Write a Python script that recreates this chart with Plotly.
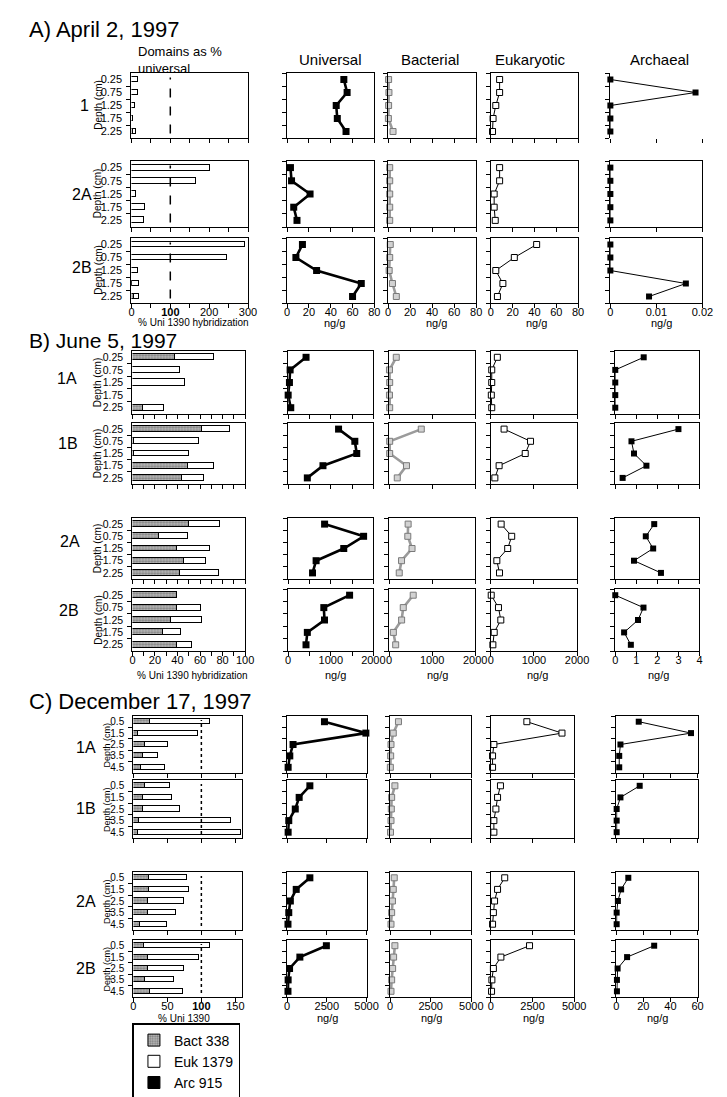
import plotly.graph_objects as go

W, H = 727, 1097
FONT = "Liberation Sans, Arial, Helvetica, sans-serif"

# ---------------- data ----------------
depth_AB = [0.25, 0.75, 1.25, 1.75, 2.25]
depth_AB_labels = ["0.25", "0.75", "1.25", "1.75", "2.25"]
depth_C = [0.5, 1.5, 2.5, 3.5, 4.5]
depth_C_labels = ["0.5", "1.5", "2.5", "3.5", "4.5"]

section_titles = ["A) April 2, 1997", "B) June 5, 1997", "C) December 17, 1997"]
column_titles = ["Universal", "Bacterial", "Eukaryotic", "Archaeal"]
legend_names = ["Bact 338", "Euk 1379", "Arc 915"]
cores_A = ["1", "2A", "2B"]
cores_B = ["1A", "1B", "2A", "2B"]
cores_C = ["1A", "1B", "2A", "2B"]

# A) April 2, 1997 -- domains as % universal (stacked: Bact, Euk, Arc)
A1_bact_pct = [0, 0, 0, 0, 5]
A1_euk_pct = [18, 17, 10, 6, 8]
A2A_bact_pct = [0, 0, 0, 0, 0]
A2A_euk_pct = [203, 168, 13, 35, 34]
A2B_bact_pct = [0, 0, 0, 3, 8]
A2B_euk_pct = [294, 248, 19, 18, 13]
A_arc_pct = [0, 0, 0, 0, 0]
# A) rRNA ng/g
A1_uni = [52, 55, 45, 46, 54]
A1_bac = [0.5, 0.8, 0.5, 0.3, 4.5]
A1_euk = [8, 8, 4.5, 2, 1.5]
A1_arc = [0, 0.0185, 0, 0, 0]
A2A_uni = [3, 4, 21, 6, 9]
A2A_bac = [1.5, 1.5, 1.5, 1.5, 1.5]
A2A_euk = [8, 8, 3, 3, 4]
A2A_arc = [0, 0, 0, 0, 0]
A2B_uni = [14, 8, 27, 68, 60]
A2B_bac = [2, 1.5, 1, 4, 7.5]
A2B_euk = [42, 21.5, 4.5, 11, 6]
A2B_arc = [0, 0, 0, 0.0164, 0.0084]

# B) June 5, 1997
B1A_bact_pct = [38, 0, 0, None, 9.5]
B1A_euk_pct = [35, 43, 47, None, 19]
B1B_bact_pct = [62, 2, 2, 50, 44]
B1B_euk_pct = [25, 57.5, 49, 22.5, 20]
B2A_bact_pct = [51, 24, 40, 46, 43]
B2A_euk_pct = [27, 26, 29, 20, 34]
B2B_bact_pct = [40, 40, 35, 27.5, 40]
B2B_euk_pct = [0, 21, 27, 16, 13]
B_arc_pct = [0, 0, 0, 0, 0]
B1A_uni = [420, 46, 30, 0, 61]
B1A_bac = [168, 10, 15, 10, 15]
B1A_euk = [150, 20, 20, 10, 20]
B1A_arc = [1.35, 0, 0, 0, 0]
B1B_uni = [1183, 1565, 1610, 817, 450]
B1B_bac = [748, 15, 15, 405, 191]
B1B_euk = [306, 920, 797, 191, 92]
B1B_arc = [3.0, 0.77, 0.89, 1.48, 0.35]
B2A_uni = [855, 1771, 1305, 656, 572]
B2A_bac = [443, 435, 534, 290, 237]
B2A_euk = [238, 483, 390, 138, 200]
B2A_arc = [1.85, 1.45, 1.8, 0.89, 2.17]
B2B_uni = [1442, 837, 853, 450, 419]
B2B_bac = [561, 330, 292, 100, 154]
B2B_euk = [8, 176, 230, 77, 46]
B2B_arc = [0, 1.34, 1.08, 0.42, 0.74]

# C) December 17, 1997
C1A_bact_pct = [25, 7, 18, 14, 12.5]
C1A_euk_pct = [88, 88, 33.5, 23, 34.5]
C1B_bact_pct = [17.5, 14, 14.5, 8.5, 7]
C1B_euk_pct = [36.5, 44, 55, 135, 152]
C2A_bact_pct = [23, 23, 22, 21.5, 11]
C2A_euk_pct = [56, 60, 53, 42, 38.5]
C2B_bact_pct = [16, 22.5, 22.5, 17, 25.5]
C2B_euk_pct = [98, 75, 53, 43, 48]
C_arc_pct = [0, 0, 0, 0, 0]
C1A_uni = [2350, 4960, 370, 165, 60]
C1A_bac = [520, 200, 60, 40, 20]
C1A_euk = [2160, 4270, 180, 100, 100]
C1A_arc = [16.6, 55.2, 3.1, 2.2, 2.2]
C1B_uni = [1430, 755, 510, 100, 60]
C1B_bac = [300, 100, 80, 60, 30]
C1B_euk = [575, 400, 300, 180, 180]
C1B_arc = [17.3, 3.1, 0.3, 0.3, 0.3]
C2A_uni = [1430, 570, 200, 100, 50]
C2A_bac = [260, 200, 150, 100, 60]
C2A_euk = [830, 400, 220, 150, 100]
C2A_arc = [8.9, 3.6, 1.2, 0.3, 0.3]
C2B_uni = [2470, 800, 150, 60, 50]
C2B_bac = [300, 220, 160, 100, 60]
C2B_euk = [2320, 600, 150, 60, 40]
C2B_arc = [28, 8, 1, 0.5, 0.5]

# axis tick values / labels
A_bar_ticks = [0, 100, 200, 300]
A_bar_ticklabels = ["0", "<b>100</b>", "200", "300"]
A_bar_minor = [50, 150, 250]
A_ng_ticks = [0, 20, 40, 60, 80]
A_arc_ticks = [0, 0.01, 0.02]
A_arc_ticklabels = ["0", "0.01", "0.02"]
B_bar_ticks = [0, 20, 40, 60, 80, 100]
B_bar_minor = [10, 30, 50, 70, 90]
B_ng_ticks = [0, 1000, 2000]
B_uni_minor = [500, 1500]
B_arc_ticks = [0, 1, 2, 3, 4]
C_bar_ticks = [0, 50, 100, 150]
C_bar_ticklabels = ["0", "50", "<b>100</b>", "150"]
C_ng_ticks = [0, 2500, 5000]
C_arc_ticks = [0, 20, 40, 60]

# ---------------- figure building ----------------
fig = go.Figure()
LAY = {}
SHAPES = []
ANNOS = []
_count = [0]


def fx(p):
    return p / W


def fy(p):
    return 1 - p / H


def sfx(n):
    return "" if n == 1 else str(n)


def new_panel(xpx, ypx, xrange, yrange, xmajor, xlabels, xminor, show_xlabels,
              ytick, ylabels, ybounds, frame=True, xline=True, yfont=11):
    _count[0] += 1
    n = _count[0]
    s = sfx(n)
    xa = dict(domain=[fx(xpx[0]), fx(xpx[1])], range=xrange, anchor="y" + s,
              showline=xline, linecolor="black", linewidth=1.4, mirror=frame,
              ticks="outside", ticklen=4, tickwidth=1, tickcolor="black",
              tickmode="array", tickvals=xmajor,
              ticktext=[str(t) for t in xlabels] if xlabels else None,
              showticklabels=show_xlabels, ticklabelstandoff=-5,
              tickfont=dict(size=11, color="black", family=FONT),
              showgrid=False, zeroline=False, fixedrange=True)
    if xminor:
        xa["minor"] = dict(tickmode="array", tickvals=xminor, ticks="outside",
                           ticklen=4, tickwidth=1, tickcolor="black", showgrid=False)
    ya = dict(domain=[fy(ypx[1]), fy(ypx[0])], range=yrange, anchor="x" + s,
              showline=True, linecolor="black", linewidth=1.4, mirror=frame,
              showgrid=False, zeroline=False, fixedrange=True)
    if ylabels:
        ya.update(tickmode="array", tickvals=ytick, ticktext=ylabels, ticks="",
                  showticklabels=True, ticklabelstandoff=6,
                  tickfont=dict(size=yfont, color="black", family=FONT),
                  minor=dict(tickmode="array", tickvals=ybounds, ticks="outside",
                             ticklen=4, tickwidth=1, tickcolor="black", showgrid=False))
    else:
        ya.update(tickmode="array", tickvals=ybounds, ticks="outside", ticklen=4,
                  tickwidth=1, tickcolor="black", showticklabels=False)
    LAY["xaxis" + s] = xa
    LAY["yaxis" + s] = ya
    return "x" + s, "y" + s


BACT_MARKER = dict(color="#ababab",
                   pattern=dict(shape=".", fgcolor="#4a4a4a", bgcolor="#b8b8b8",
                                size=3, solidity=0.45),
                   line=dict(color="black", width=1))
EUK_MARKER = dict(color="white", line=dict(color="black", width=1))
ARC_MARKER = dict(color="black", line=dict(color="black", width=1))

STYLES = [
    dict(line=dict(color="black", width=2.6),
         marker=dict(symbol="square", size=7, color="black")),
    dict(line=dict(color="#9b9b9b", width=2.6),
         marker=dict(symbol="square", size=6, color="#d2d2d2",
                     line=dict(color="#7a7a7a", width=1))),
    dict(line=dict(color="black", width=1),
         marker=dict(symbol="square", size=6, color="white",
                     line=dict(color="black", width=1))),
    dict(line=dict(color="black", width=1),
         marker=dict(symbol="square", size=6, color="black")),
]

legend_done = [False]


def add_bars(xa, ya, depths, bact, euk, arc, width):
    show = not legend_done[0]
    legend_done[0] = True
    fig.add_trace(go.Bar(y=depths, x=bact, orientation="h", width=width,
                         marker=BACT_MARKER, name=legend_names[0], xaxis=xa, yaxis=ya,
                         showlegend=show, legendgroup="g", hoverinfo="skip"))
    fig.add_trace(go.Bar(y=depths, x=euk, orientation="h", width=width,
                         marker=EUK_MARKER, name=legend_names[1], xaxis=xa, yaxis=ya,
                         showlegend=show, legendgroup="g", hoverinfo="skip"))
    fig.add_trace(go.Bar(y=depths, x=arc, orientation="h", width=width,
                         marker=ARC_MARKER, name=legend_names[2], xaxis=xa, yaxis=ya,
                         showlegend=show, legendgroup="g", hoverinfo="skip"))


def add_profile(xa, ya, depths, vals, k):
    st = STYLES[k]
    fig.add_trace(go.Scatter(x=vals, y=depths, mode="lines+markers", line=st["line"],
                             marker=st["marker"], xaxis=xa, yaxis=ya, showlegend=False,
                             cliponaxis=False, hoverinfo="skip"))


def ref_line(xa, ya, dash):
    SHAPES.append(dict(type="line", xref=xa, yref=ya + " domain", x0=100, x1=100,
                       y0=0.07, y1=0.93, line=dict(color="black", width=1.5, dash=dash),
                       layer="above"))


def text(t, x, y, size, xanchor="center", angle=0):
    ANNOS.append(dict(text=t, x=fx(x), y=fy(y), xref="paper", yref="paper",
                      xanchor=xanchor, yanchor="middle", showarrow=False, textangle=angle,
                      align="left", font=dict(size=size, color="black", family=FONT)))


sections = [
    dict(
        title=section_titles[0], title_y=21.5, title_size=22,
        rows=[(65, 130), (153, 219), (230, 295)],
        cores=cores_A,
        core_xy=[(75, 97), (73, 187), (73, 260)],
        cols=[(123, 242), (282, 371), (385, 475), (490, 579), (612, 706)],
        depths=depth_AB, depth_labels=depth_AB_labels, ymax=2.5,
        bounds=[0.5, 1.0, 1.5, 2.0], bar_width=0.23, depth_x=89, depth_font=10,
        ytickfont=11, dash="dash",
        bars=[(A1_bact_pct, A1_euk_pct, A_arc_pct), (A2A_bact_pct, A2A_euk_pct, A_arc_pct),
              (A2B_bact_pct, A2B_euk_pct, A_arc_pct)],
        prof=[(A1_uni, A1_bac, A1_euk, A1_arc), (A2A_uni, A2A_bac, A2A_euk, A2A_arc),
              (A2B_uni, A2B_bac, A2B_euk, A2B_arc)],
        xranges=[[0, 300], [0, 80], [0, 80], [0, 80], [0, 0.02]],
        xticks=[(A_bar_ticks, A_bar_ticklabels, A_bar_minor),
                (A_ng_ticks, A_ng_ticks, None), (A_ng_ticks, A_ng_ticks, None),
                (A_ng_ticks, A_ng_ticks, None), (A_arc_ticks, A_arc_ticklabels, None)],
        bar_title="% Uni 1390 hybridization", bar_title_x=186, axis_title_y=314.5,
        ng_x=[330, 434, 537, 664],
    ),
    dict(
        title=section_titles[1], title_y=332.5, title_size=21,
        rows=[(343, 406), (415, 476), (510, 571), (581, 643)],
        cores=cores_B,
        core_xy=[(57, 370), (58, 435), (60, 533), (59, 602)],
        cols=[(124, 239), (283, 370), (386, 474), (490, 578), (617, 703)],
        depths=depth_AB, depth_labels=depth_AB_labels, ymax=2.5,
        bounds=[0.5, 1.0, 1.5, 2.0], bar_width=0.24, depth_x=88.5, depth_font=10,
        ytickfont=10.5, dash=None,
        bars=[(B1A_bact_pct, B1A_euk_pct, B_arc_pct), (B1B_bact_pct, B1B_euk_pct, B_arc_pct),
              (B2A_bact_pct, B2A_euk_pct, B_arc_pct), (B2B_bact_pct, B2B_euk_pct, B_arc_pct)],
        prof=[(B1A_uni, B1A_bac, B1A_euk, B1A_arc), (B1B_uni, B1B_bac, B1B_euk, B1B_arc),
              (B2A_uni, B2A_bac, B2A_euk, B2A_arc), (B2B_uni, B2B_bac, B2B_euk, B2B_arc)],
        xranges=[[0, 100], [0, 2000], [0, 2000], [0, 2000], [0, 4]],
        xticks=[(B_bar_ticks, B_bar_ticks, B_bar_minor),
                (B_ng_ticks, B_ng_ticks, B_uni_minor), (B_ng_ticks, B_ng_ticks, None),
                (B_ng_ticks, B_ng_ticks, None), (B_arc_ticks, B_arc_ticks, None)],
        bar_title="% Uni 1390 hybridization", bar_title_x=185, axis_title_y=667,
        ng_x=[331, 435, 538, 661],
    ),
    dict(
        title=section_titles[2], title_y=693, title_size=22,
        rows=[(708, 765), (772, 830), (864, 922), (932, 989)],
        cores=cores_C,
        core_xy=[(77, 739), (77, 800), (77, 893), (77, 960)],
        cols=[(125, 236), (282, 363), (387, 470), (490, 575), (618, 701)],
        depths=depth_C, depth_labels=depth_C_labels, ymax=5,
        bounds=[1, 2, 3, 4], bar_width=0.45, depth_x=98, depth_font=9,
        ytickfont=10, dash="dot",
        bars=[(C1A_bact_pct, C1A_euk_pct, C_arc_pct), (C1B_bact_pct, C1B_euk_pct, C_arc_pct),
              (C2A_bact_pct, C2A_euk_pct, C_arc_pct), (C2B_bact_pct, C2B_euk_pct, C_arc_pct)],
        prof=[(C1A_uni, C1A_bac, C1A_euk, C1A_arc), (C1B_uni, C1B_bac, C1B_euk, C1B_arc),
              (C2A_uni, C2A_bac, C2A_euk, C2A_arc), (C2B_uni, C2B_bac, C2B_euk, C2B_arc)],
        xranges=[[0, 160], [0, 5000], [0, 5000], [0, 5000], [0, 60]],
        xticks=[(C_bar_ticks, C_bar_ticklabels, None),
                (C_ng_ticks, C_ng_ticks, None), (C_ng_ticks, C_ng_ticks, None),
                (C_ng_ticks, C_ng_ticks, None), (C_arc_ticks, C_arc_ticks, None)],
        bar_title="% Uni 1390", bar_title_x=177, axis_title_y=1010,
        ng_x=[323, 429, 533, 660],
    ),
]

for si, sec in enumerate(sections):
    text(sec["title"], 16, sec["title_y"], sec["title_size"], xanchor="left")
    nrows = len(sec["rows"])
    for ri, (y0, y1) in enumerate(sec["rows"]):
        last = ri == nrows - 1
        text(sec["cores"][ri], sec["core_xy"][ri][0], sec["core_xy"][ri][1], 16)
        text("Depth (cm)", sec["depth_x"], (y0 + y1) / 2, sec["depth_font"], angle=-90)
        # bar panel
        maj, lab, mnr = sec["xticks"][0]
        xa, ya = new_panel(sec["cols"][0], (y0, y1), sec["xranges"][0],
                           [sec["ymax"], 0], maj, lab, mnr, last,
                           sec["depths"], sec["depth_labels"], sec["bounds"],
                           yfont=sec["ytickfont"])
        b, e, a = sec["bars"][ri]
        add_bars(xa, ya, sec["depths"], b, e, a, sec["bar_width"])
        if sec["dash"]:
            ref_line(xa, ya, sec["dash"])
        # profile panels
        for k in range(4):
            maj, lab, mnr = sec["xticks"][k + 1]
            special = (si == 0 and ri == 0 and k == 3)
            xa, ya = new_panel(sec["cols"][k + 1], (y0, y1), sec["xranges"][k + 1],
                               [sec["ymax"], 0], maj, lab, mnr, last,
                               sec["bounds"], None, [0] + sec["bounds"] + [sec["ymax"]],
                               frame=not special, xline=not special)
            add_profile(xa, ya, sec["depths"], sec["prof"][ri][k], k)
    text(sec["bar_title"], sec["bar_title_x"], sec["axis_title_y"], 10)
    for k in range(4):
        text("ng/g", sec["ng_x"][k], sec["axis_title_y"], 11)

# column headers
text("Domains as %<br>universal", 128, 51.5, 13, xanchor="left")
for t, x in zip(column_titles, [326, 428, 530, 662]):
    text(t, x, 51, 15)

fig.update_layout(
    width=W, height=H,
    margin=dict(l=0, r=0, t=0, b=0),
    paper_bgcolor="white", plot_bgcolor="white",
    barmode="stack", bargap=0,
    font=dict(family=FONT, color="black"),
    showlegend=True,
    legend=dict(x=fx(124), y=fy(1015), xanchor="left", yanchor="top",
                bgcolor="white", bordercolor="black", borderwidth=1.5,
                font=dict(size=14, family=FONT, color="black"),
                traceorder="normal", tracegroupgap=0, itemwidth=30),
    shapes=SHAPES, annotations=ANNOS,
    hovermode=False,
    **LAY,
)

fig.write_html("out.html", config={"displayModeBar": False})
